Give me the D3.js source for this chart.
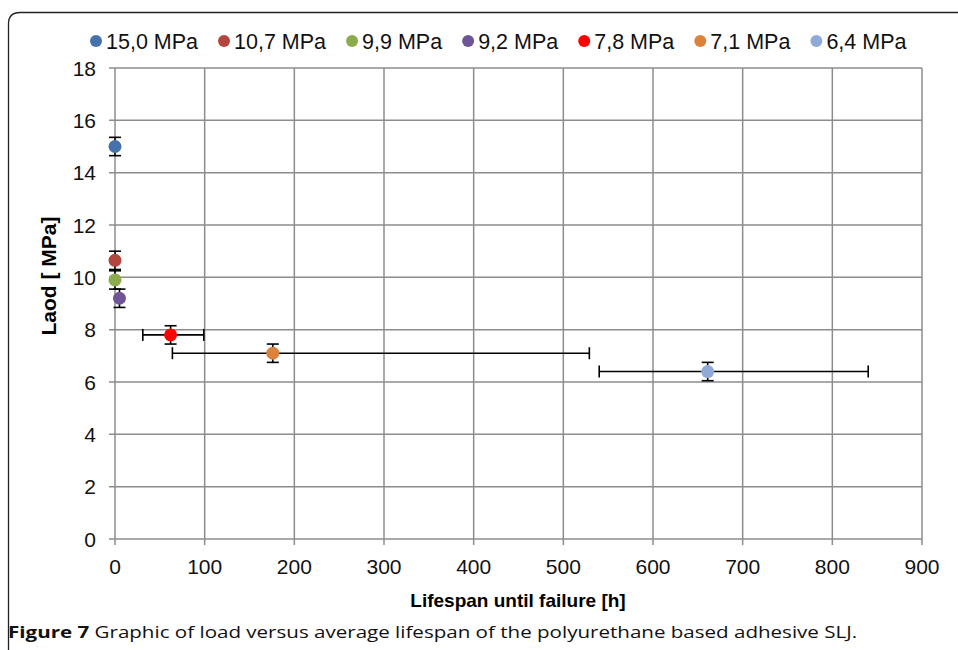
<!DOCTYPE html>
<html>
<head>
<meta charset="utf-8">
<script src="https://cdn.jsdelivr.net/npm/d3@7"></script>
<style>
  body { margin: 0; background: #fff; }
  svg { display: block; }
</style>
</head>
<body>
<script>
var labels = ['15,0 MPa', '10,7 MPa', '9,9 MPa', '9,2 MPa', '7,8 MPa', '7,1 MPa', '6,4 MPa'];
var lifespan = [0, 0, 0, 5, 62, 176, 661];
var load = [15.0, 10.65, 9.9, 9.2, 7.8, 7.1, 6.4];
var loadErr = [0.35, 0.35, 0.35, 0.35, 0.35, 0.35, 0.35];
var lifeLow = [null, null, null, null, 31, 64, 540];
var lifeHigh = [null, null, null, null, 99, 529, 840];
var colors = ['#4572ad', '#b2463f', '#8cab4c', '#6f5597', '#ff0000', '#dc833b', '#8faad6'];
var xTicks = [0, 100, 200, 300, 400, 500, 600, 700, 800, 900];
var yTicks = [0, 2, 4, 6, 8, 10, 12, 14, 16, 18];

var width = 958, height = 650;
var svg = d3.select('body').append('svg').attr('width', width).attr('height', height);

// frame
svg.append('path')
  .attr('d', 'M8.5,650 L8.5,24 Q8.5,12.5 20,12.5 L960,12.5')
  .attr('fill', 'none').attr('stroke', '#222').attr('stroke-width', 1.3);

var x = d3.scaleLinear().domain([0, 900]).range([115, 922]);
var y = d3.scaleLinear().domain([0, 18]).range([539, 68]);

var grid = svg.append('g');
grid.selectAll('.gx').data(xTicks).enter().append('line')
  .attr('x1', function (d) { return x(d); }).attr('x2', function (d) { return x(d); })
  .attr('y1', y(18)).attr('y2', y(0) + 6)
  .attr('stroke', '#8c8c8c').attr('stroke-width', 1.5);
grid.selectAll('.gy').data(yTicks).enter().append('line')
  .attr('x1', x(0) - 6).attr('x2', x(900))
  .attr('y1', function (d) { return y(d); }).attr('y2', function (d) { return y(d); })
  .attr('stroke', '#8c8c8c').attr('stroke-width', 1.5);

var font = '"Liberation Sans", Arial, sans-serif';
svg.selectAll('.xt').data(xTicks).enter().append('text')
  .attr('x', function (d) { return x(d); }).attr('y', y(0) + 35)
  .attr('text-anchor', 'middle').attr('font-family', font).attr('font-size', 21)
  .attr('fill', '#111').text(function (d) { return d; });
svg.selectAll('.yt').data(yTicks).enter().append('text')
  .attr('x', x(0) - 19).attr('y', function (d) { return y(d) + 7.5; })
  .attr('text-anchor', 'end').attr('font-family', font).attr('font-size', 21)
  .attr('fill', '#111').text(function (d) { return d; });

svg.append('text').attr('x', 518).attr('y', 607).attr('text-anchor', 'middle')
  .attr('font-family', font).attr('font-size', 19).attr('font-weight', 'bold')
  .text('Lifespan until failure [h]');
svg.append('text').attr('transform', 'translate(56,276) rotate(-90)')
  .attr('text-anchor', 'middle')
  .attr('font-family', font).attr('font-size', 21).attr('font-weight', 'bold')
  .text('Laod [ MPa]');

// error bars
var idx = d3.range(labels.length);
var eb = svg.append('g').attr('stroke', '#000').attr('stroke-width', 1.6);
idx.forEach(function (i) {
  var cx = x(lifespan[i]);
  var y1 = y(load[i] + loadErr[i]), y2 = y(load[i] - loadErr[i]);
  eb.append('line').attr('x1', cx).attr('x2', cx).attr('y1', y1).attr('y2', y2);
  eb.append('line').attr('x1', cx - 6).attr('x2', cx + 6).attr('y1', y1).attr('y2', y1);
  eb.append('line').attr('x1', cx - 6).attr('x2', cx + 6).attr('y1', y2).attr('y2', y2);
  if (lifeLow[i] !== null) {
    var cy = y(load[i]);
    var xa = x(lifeLow[i]), xb = x(lifeHigh[i]);
    eb.append('line').attr('x1', xa).attr('x2', xb).attr('y1', cy).attr('y2', cy);
    eb.append('line').attr('x1', xa).attr('x2', xa).attr('y1', cy - 6).attr('y2', cy + 6);
    eb.append('line').attr('x1', xb).attr('x2', xb).attr('y1', cy - 6).attr('y2', cy + 6);
  }
});

svg.selectAll('.pt').data(idx).enter().append('circle')
  .attr('cx', function (i) { return x(lifespan[i]); })
  .attr('cy', function (i) { return y(load[i]); })
  .attr('r', 6.5)
  .attr('fill', function (i) { return colors[i]; });

// legend
var legend = svg.append('g');
var lx = 96;
idx.forEach(function (i) {
  var g = legend.append('g').attr('transform', 'translate(' + lx + ',41)');
  g.append('circle').attr('cx', 0).attr('cy', 0).attr('r', 6).attr('fill', colors[i]);
  var t = g.append('text').attr('x', 10).attr('y', 7.5)
    .attr('font-family', font).attr('font-size', 21.5).attr('fill', '#111').text(labels[i]);
  lx += 10 + t.node().getComputedTextLength() + 26;
});

// caption
var cap = svg.append('text')
  .attr('font-family', '"Open Sans", "Noto Sans", sans-serif').attr('font-size', 16.5).attr('fill', '#111');
cap.append('tspan').attr('font-weight', 'bold').text('Figure 7');
cap.append('tspan').text(' Graphic of load versus average lifespan of the polyurethane based adhesive SLJ.');
var capLen = cap.node().getComputedTextLength();
cap.attr('transform', 'translate(8,638) scale(' + (850 / capLen) + ',1)');
</script>
</body>
</html>
